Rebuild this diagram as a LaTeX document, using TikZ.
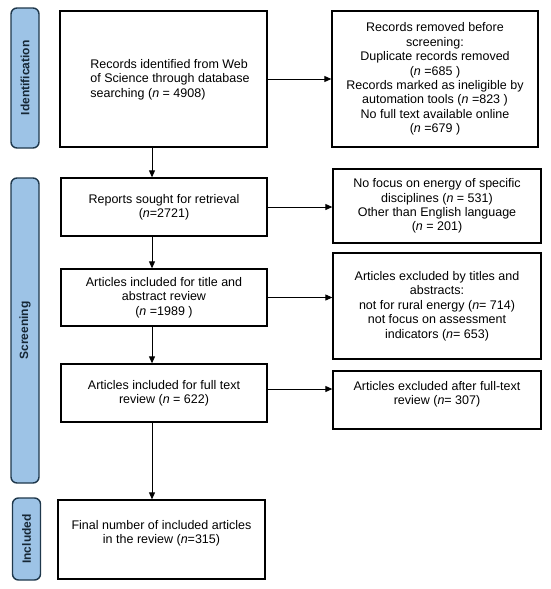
\documentclass[tikz,border=0pt]{standalone}
\usepackage{fontspec}
\setmainfont{Liberation Sans}
\usetikzlibrary{arrows.meta}
\definecolor{barfill}{RGB}{157,195,230}
\definecolor{barline}{RGB}{31,56,76}
\begin{document}
\begin{tikzpicture}[x=1pt,y=-1pt,
  every node/.style={font=\fontsize{12.5}{14.4}\selectfont},
  box/.style={draw=black, line width=1.3pt, inner sep=0pt, align=center},
  txt/.style={inner sep=0pt, align=center},
  bar/.style={draw=barline, fill=barfill, line width=1.4pt, rounded corners=6pt, inner sep=0pt},
  bartxt/.style={rotate=90, font=\fontsize{12}{14}\selectfont\bfseries, text=barline!70!black},
  arr/.style={line width=0.9pt, -{Triangle[length=7pt,width=6pt]}}]
\useasboundingbox (0,0) rectangle (550,589);
% side bars
\node[bar, minimum width=28pt, minimum height=140pt] (idb) at (25,78) {};
\node[bartxt] (idt) at (idb.center) {Identification};
\node[bar, minimum width=28pt, minimum height=305pt] (scb) at (25,330.5) {};
\node[bartxt] (sct) at (scb.center) {Screening};
\node[bar, minimum width=28pt, minimum height=82pt] (inb) at (26.5,539) {};
\node[bartxt] (intx) at (inb.center) {Included};
% main boxes
\node[box, minimum width=207pt, minimum height=136pt] (b1) at (163.5,79) {};
\node[txt, align=left] (b1t) at (170,79.5) {Records identified from Web\\of Science through database\\searching (\textit{n} = 4908)};
\node[box, minimum width=206pt, minimum height=136pt] (rem) at (435,79) {Records removed before\\screening:\\Duplicate records removed\\(\textit{n} =685 )\\Records marked as ineligible by\\automation tools (\textit{n} =823 )\\No full text available online\\(\textit{n} =679 )};
\node[box, minimum width=206pt, minimum height=58pt] (b2) at (164,207) {Reports sought for retrieval\\(\textit{n}=2721)};
\node[box, minimum width=208pt, minimum height=74pt] (nf) at (437,206) {No focus on energy of specific\\disciplines (\textit{n} = 531)\\Other than English language\\(\textit{n} = 201)};
\node[box, minimum width=206pt, minimum height=57pt] (b3) at (164,297.5) {Articles included for title and\\abstract review\\(\textit{n} =1989 )};
\node[box, minimum width=208pt, minimum height=106pt] (ti) at (437,306) {Articles excluded by titles and\\abstracts:\\ not for rural energy (\textit{n}= 714)\\not focus on assessment\\indicators (\textit{n}= 653)};
\node[box, minimum width=206pt, minimum height=58pt] (b4) at (164,393) {Articles included for full text\\review (\textit{n} = 622)};
\node[box, minimum width=208pt, minimum height=58pt] (ft) at (437,400) {};
\node[txt] (ftt) at (437,394) {Articles excluded after full-text\\review (\textit{n}= 307)};
\node[box, minimum width=207pt, minimum height=79pt] (fin) at (161.5,539.5) {};
\node[txt] (fint) at (161.5,533.5) {Final number of included articles\\in the review (\textit{n}=315)};
% connectors
\coordinate (ax) at (152,0);
\draw[arr] (b1.east) -- (b1.east -| rem.west);
\draw[arr] (b1.south -| ax) -- (b2.north -| ax);
\draw[arr] (b2.east) -- (b2.east -| nf.west);
\draw[arr] (b2.south -| ax) -- (b3.north -| ax);
\draw[arr] (b3.east) -- (b3.east -| ti.west);
\draw[arr] (b3.south -| ax) -- (b4.north -| ax);
\draw[arr] ([yshift=4pt]b4.east) -- ([yshift=4pt]b4.east -| ft.west);
\draw[arr] (b4.south -| ax) -- (fin.north -| ax);
\end{tikzpicture}
\end{document}
